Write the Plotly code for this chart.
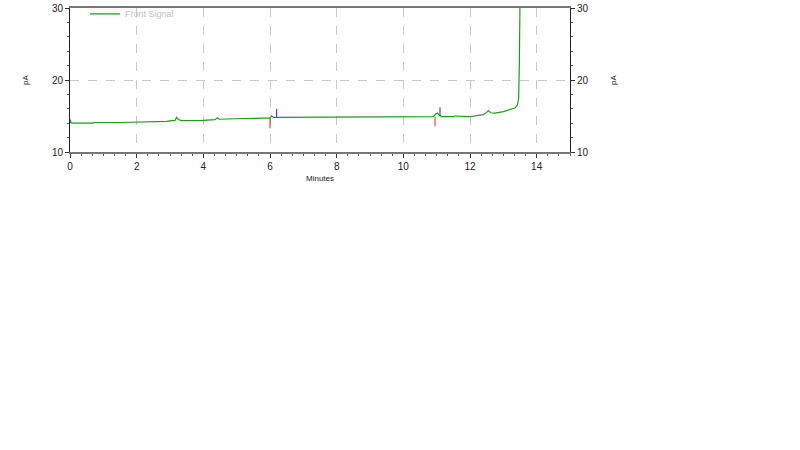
import plotly.graph_objects as go

# ── Data ───────────────────────────────────────────────────────────────────────
time_min = [0.00, 0.01, 0.03, 0.05, 0.68, 0.70, 1.50, 2.20, 2.30, 2.90, 3.05,
            3.15, 3.20, 3.25, 3.35, 3.60, 4.00, 4.35, 4.42, 4.48, 4.60, 5.20,
            5.80, 5.98, 6.05, 6.10, 6.20, 6.40, 7.00, 8.00, 8.50, 8.55, 9.00,
            9.60, 10.00, 10.50, 10.90, 10.98, 11.02, 11.08, 11.15, 11.50, 11.55,
            12.00, 12.20, 12.40, 12.50, 12.55, 12.62, 12.75, 13.00, 13.20, 13.35,
            13.42, 13.46, 13.48, 13.49, 13.50]
signal_pa = [14.0, 14.5, 14.1, 14.0, 14.0, 14.1, 14.1, 14.15, 14.2, 14.25, 14.35,
             14.4, 14.8, 14.5, 14.35, 14.35, 14.4, 14.5, 14.75, 14.55, 14.55, 14.65,
             14.7, 14.7, 15.0, 14.8, 14.8, 14.8, 14.8, 14.85, 14.85, 14.9, 14.9,
             14.9, 14.9, 14.9, 14.9, 15.3, 15.4, 15.1, 14.9, 14.9, 15.0,
             14.9, 15.0, 15.2, 15.5, 15.75, 15.45, 15.4, 15.6, 15.85, 16.1,
             16.5, 17.5, 22.0, 27.0, 31.0]

# integration baseline markers: (time, from, to)
start_marks = [(6.00, 14.7, 13.3), (10.95, 14.9, 13.6)]
end_marks = [(6.20, 14.8, 16.0), (11.10, 15.0, 16.2)]

GREEN = "#1f9a1f"
FONT = "Liberation Sans, Arial, sans-serif"

fig = go.Figure()
fig.add_trace(go.Scatter(
    x=time_min, y=signal_pa, mode="lines", name="Front Signal",
    line=dict(color=GREEN, width=1.2),
))
for t, y0, y1 in start_marks:
    fig.add_trace(go.Scatter(x=[t, t], y=[y0, y1], mode="lines", showlegend=False,
                             line=dict(color="#ee2222", width=1)))
for t, y0, y1 in end_marks:
    fig.add_trace(go.Scatter(x=[t, t], y=[y0, y1], mode="lines", showlegend=False,
                             line=dict(color="#2222dd", width=1)))

_AX = dict(showgrid=True, gridcolor="#c8c8c8", griddash="dash", gridwidth=1,
           zeroline=False, ticks="outside", ticklen=4, tickcolor="#333",
           automargin=False, ticklabeloverflow="allow",
           tickfont=dict(family=FONT, size=10, color="#222"))

fig.update_layout(
    width=800, height=450,
    paper_bgcolor="white", plot_bgcolor="white",
    margin=dict(l=70, r=230, t=8, b=298, autoexpand=False),
    font=dict(family=FONT, size=10, color="#222"),
    showlegend=True,
    legend=dict(x=0.03, y=1.06, xanchor="left", yanchor="top",
                bgcolor="rgba(0,0,0,0)", font=dict(size=9, color="#c0c0c0"),
                itemwidth=30),
    xaxis=dict(range=[0, 15], dtick=2, tick0=0, **_AX,
               showline=True, linecolor="#777", linewidth=2, mirror=True,
               minor=dict(dtick=1 / 3, ticks="outside", ticklen=2, tickcolor="#555",
                          showgrid=False),
               title=dict(text="Minutes", font=dict(size=8), standoff=4)),
    yaxis=dict(range=[10, 30], dtick=10, **_AX,
               showline=True, linecolor="#222", linewidth=1,
               minor=dict(dtick=2, ticks="outside", ticklen=2, tickcolor="#555",
                          showgrid=False),
               title=dict(text="pA", font=dict(size=8), standoff=22)),
    yaxis2=dict(range=[10, 30], dtick=10, overlaying="y", side="right", anchor="x",
                showgrid=False, zeroline=False, ticks="outside", ticklen=4,
                automargin=False, ticklabeloverflow="allow",
                tickcolor="#333", tickfont=dict(family=FONT, size=10, color="#222"),
                showline=True, linecolor="#222", linewidth=1,
                minor=dict(dtick=2, ticks="outside", ticklen=2, tickcolor="#555"),
                title=dict(text="pA", font=dict(size=8), standoff=22)),
)
# dummy trace so the right axis renders
fig.add_trace(go.Scatter(x=[None], y=[None], yaxis="y2", showlegend=False,
                         hoverinfo="skip"))

# drop the default 8px page margin so the figure sits at the window corner
fig.write_html("out.html", config={"displayModeBar": False},
               post_script="document.body.style.margin='0';")
